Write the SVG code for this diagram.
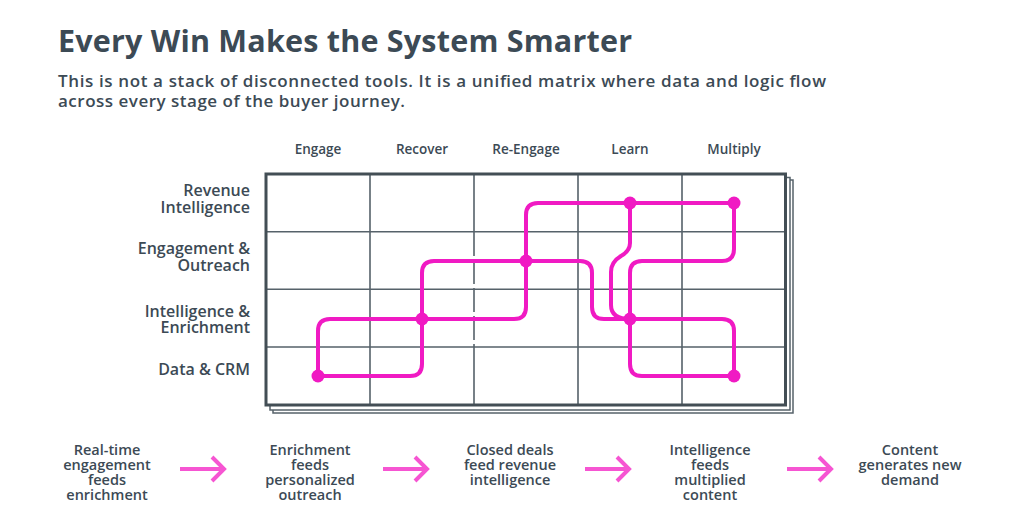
<svg xmlns="http://www.w3.org/2000/svg" width="1024" height="517" viewBox="0 0 1024 517">
<style>
text{font-family:"Open Sans","Liberation Sans",sans-serif;fill:#3c4a55}
.title{font-size:30.5px;font-weight:700}
.sub{font-size:17px;font-weight:600}
.row{font-size:16px;font-weight:600;text-anchor:end}
.col{font-size:13.5px;font-weight:600;text-anchor:middle}
.step{font-size:14.5px;font-weight:600;text-anchor:middle}
.grid{stroke:#56626a;stroke-width:1.6;fill:none}
.sheet{fill:#fff;stroke:#56626a;stroke-width:1.5}
.flow{fill:none;stroke:#f01ac3;stroke-width:4;stroke-linecap:round;stroke-linejoin:round}
.dot{fill:#f01ac3}
.arr{fill:none;stroke:#f655d2;stroke-width:4;stroke-linecap:butt;stroke-linejoin:miter}
</style>
<rect width="1024" height="517" fill="#fff"/>
<text class="title" x="58" y="52" textLength="574" lengthAdjust="spacing">Every Win Makes the System Smarter</text>
<text class="sub" x="58" y="87" textLength="768" lengthAdjust="spacing">This is not a stack of disconnected tools. It is a unified matrix where data and logic flow</text>
<text class="sub" x="58" y="107" textLength="347" lengthAdjust="spacing">across every stage of the buyer journey.</text>

<g id="columns">
<text class="col" x="318" y="154">Engage</text>
<text class="col" x="422" y="154">Recover</text>
<text class="col" x="526" y="154">Re-Engage</text>
<text class="col" x="630" y="154">Learn</text>
<text class="col" x="734" y="154">Multiply</text>
</g>
<g id="rows">
<text class="row" x="250" y="196">Revenue</text>
<text class="row" x="250" y="213">Intelligence</text>
<text class="row" x="250" y="254">Engagement &amp;</text>
<text class="row" x="250" y="271">Outreach</text>
<text class="row" x="250" y="317">Intelligence &amp;</text>
<text class="row" x="250" y="333">Enrichment</text>
<text class="row" x="250" y="375">Data &amp; CRM</text>
</g>

<g id="matrix">
<rect class="sheet" x="273" y="180" width="520" height="233"/>
<rect class="sheet" x="270" y="177.5" width="520" height="232.5"/>
<rect x="266" y="174" width="519.5" height="231" fill="#fff"/>
<path class="grid" d="M370,174V405M578,174V405M682,174V405M474,174V232M474,347V405M266,231.7H785.5M266,289.3H785.5M266,347H785.5"/>
<path class="grid" d="M474,232V347" stroke-dasharray="24 4"/>
<rect x="266" y="174" width="519.5" height="231" fill="none" stroke="#434e55" stroke-width="3"/>
</g>

<g id="connectors">
<path class="flow" d="M318,376V331Q318,319 330,319H422"/>
<path class="flow" d="M318,376H410Q422,376 422,364V319"/>
<path class="flow" d="M422,319V273Q422,261 434,261H526"/>
<path class="flow" d="M422,319H514Q526,319 526,307V261"/>
<path class="flow" d="M526,261V215Q526,203 538,203H630"/>
<path class="flow" d="M630,203H734"/>
<path class="flow" d="M526,261H580Q592,261 592,273V307Q592,319 604,319H630"/>
<path class="flow" d="M630,203V243Q630,251 621,256Q611,262 611,272V305Q611,319 630,319"/>
<path class="flow" d="M734,203V249Q734,261 722,261H642Q630,261 630,273V319"/>
<path class="flow" d="M630,319H722Q734,319 734,331V376"/>
<path class="flow" d="M630,319V364Q630,376 642,376H734"/>
<path class="arr" d="M180,469H224M212,457L224,469L212,481"/>
<path class="arr" d="M383,469H427M415,457L427,469L415,481"/>
<path class="arr" d="M585,469H629M617,457L629,469L617,481"/>
<path class="arr" d="M787,469H831M819,457L831,469L819,481"/>
</g>

<g id="node-engage-data"><circle class="dot" cx="318" cy="376" r="6.5"/></g>
<g id="node-recover-intel"><circle class="dot" cx="422" cy="319" r="6.5"/></g>
<g id="node-reengage-engagement"><circle class="dot" cx="526" cy="261" r="6.5"/></g>
<g id="node-learn-revenue"><circle class="dot" cx="630" cy="203" r="6.5"/></g>
<g id="node-multiply-revenue"><circle class="dot" cx="734" cy="203" r="6.5"/></g>
<g id="node-learn-intel"><circle class="dot" cx="630" cy="319" r="6.5"/></g>
<g id="node-multiply-data"><circle class="dot" cx="734" cy="376" r="6.5"/></g>

<g id="step-1">
<text class="step" x="107" y="455">Real-time</text>
<text class="step" x="107" y="470">engagement</text>
<text class="step" x="107" y="485">feeds</text>
<text class="step" x="107" y="500">enrichment</text>
</g>
<g id="step-2">
<text class="step" x="310" y="455">Enrichment</text>
<text class="step" x="310" y="470">feeds</text>
<text class="step" x="310" y="485">personalized</text>
<text class="step" x="310" y="500">outreach</text>
</g>
<g id="step-3">
<text class="step" x="510" y="455">Closed deals</text>
<text class="step" x="510" y="470">feed revenue</text>
<text class="step" x="510" y="485">intelligence</text>
</g>
<g id="step-4">
<text class="step" x="710" y="455">Intelligence</text>
<text class="step" x="710" y="470">feeds</text>
<text class="step" x="710" y="485">multiplied</text>
<text class="step" x="710" y="500">content</text>
</g>
<g id="step-5">
<text class="step" x="910" y="455">Content</text>
<text class="step" x="910" y="470">generates new</text>
<text class="step" x="910" y="485">demand</text>
</g>
</svg>
